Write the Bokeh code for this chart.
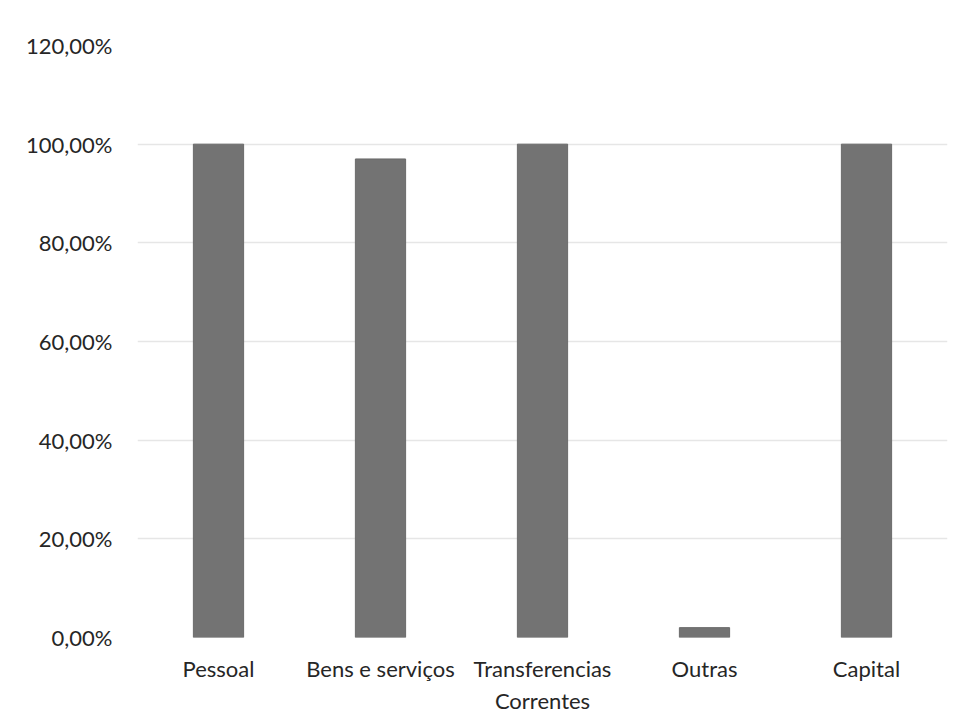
from bokeh.plotting import figure
from bokeh.embed import file_html
from bokeh.resources import INLINE
from bokeh.models import ColumnDataSource, FixedTicker

categories = ["Pessoal", "Bens e serviços", "Transferencias\nCorrentes", "Outras", "Capital"]
values = [100.0, 97.0, 100.0, 2.0, 100.0]
y_ticks = [0, 20, 40, 60, 80, 100, 120]
y_tick_labels = ["0,00%", "20,00%", "40,00%", "60,00%", "80,00%", "100,00%", "120,00%"]

src = ColumnDataSource(dict(cat=categories, val=values))

p = figure(x_range=categories, y_range=(0, 120), width=957, height=717,
           output_backend="svg", toolbar_location=None,
           min_border_left=137, min_border_right=10, min_border_top=45, min_border_bottom=80)

p.vbar(x="cat", top="val", width=0.31, source=src, fill_color="#737373", line_color="#6a6a6a")

p.yaxis.ticker = FixedTicker(ticks=y_ticks)
p.yaxis.major_label_overrides = {t: l for t, l in zip(y_ticks, y_tick_labels)}
for ax in (p.xaxis[0], p.yaxis[0]):
    ax.axis_line_color = None
    ax.major_tick_line_color = None
    ax.minor_tick_line_color = None
    ax.major_label_text_font = "Lato"
    ax.major_label_text_font_size = "22px"
    ax.major_label_text_font_style = "normal"
    ax.major_label_text_color = "#262626"
p.yaxis.major_label_standoff = 19
p.xaxis.major_label_standoff = 11

p.xgrid.grid_line_color = None
p.ygrid.grid_line_color = "#e6e6e6"
p.ygrid.grid_line_width = 1.5
p.outline_line_color = None
p.border_fill_color = "white"
p.background_fill_color = "white"

open("out.html", "w").write(file_html(p, INLINE))
